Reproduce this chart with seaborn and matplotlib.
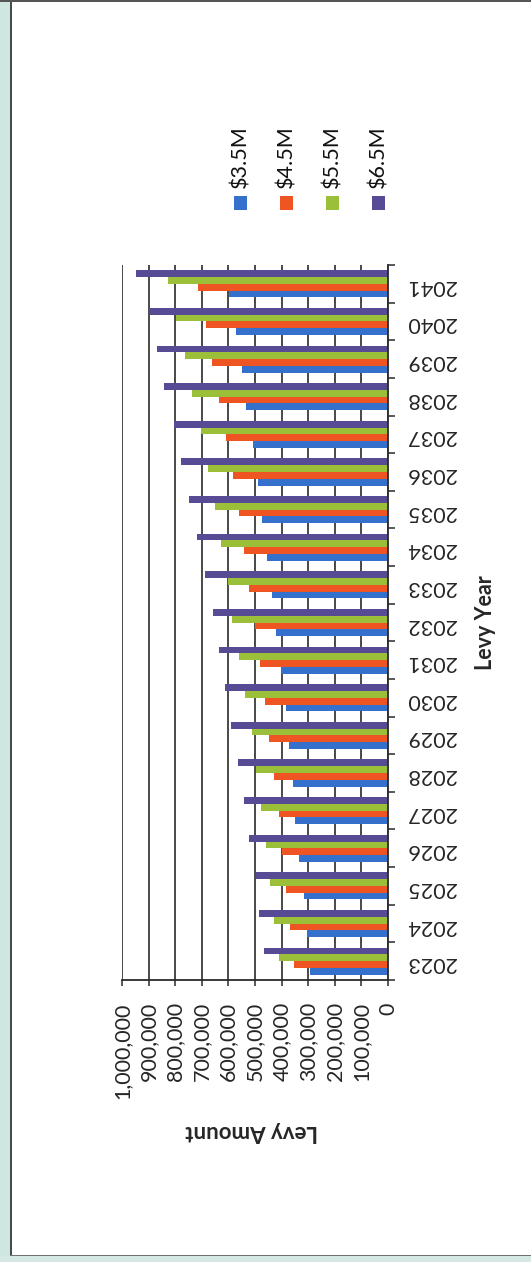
import matplotlib
matplotlib.use("Agg")
import matplotlib.pyplot as plt
from matplotlib.patches import Rectangle
from matplotlib.ticker import FixedLocator, FuncFormatter
import numpy as np
import pandas as pd
import seaborn as sns

# Projected levy by year for four total-levy scenarios
years = [2023, 2024, 2025, 2026, 2027, 2028, 2029, 2030, 2031, 2032,
         2033, 2034, 2035, 2036, 2037, 2038, 2039, 2040, 2041]
series_names = ["$3.5M", "$4.5M", "$5.5M", "$6.5M"]
levy_35 = [292000, 305000, 317000, 335000, 349000, 358000, 374000, 385000, 401000, 420000,
           437000, 455000, 473000, 489000, 508000, 533000, 548000, 571000, 596000]
levy_45 = [354000, 370000, 383000, 398000, 410000, 430000, 448000, 462000, 481000, 499000,
           521000, 543000, 561000, 583000, 609000, 634000, 661000, 686000, 715000]
levy_55 = [410000, 427000, 445000, 460000, 477000, 496000, 511000, 536000, 561000, 586000,
           602000, 627000, 652000, 678000, 703000, 736000, 765000, 797000, 828000]
levy_65 = [468000, 486000, 496000, 524000, 543000, 565000, 590000, 611000, 636000, 659000,
           688000, 719000, 747000, 778000, 803000, 841000, 868000, 900000, 947000]
value_ticks = [0, 100000, 200000, 300000, 400000, 500000, 600000, 700000, 800000, 900000, 1000000]

colors = {"$3.5M": "#3570cc", "$4.5M": "#ee5522", "$5.5M": "#9cbf3a", "$6.5M": "#564b94"}

rows = []
for name, vals in zip(series_names, [levy_35, levy_45, levy_55, levy_65]):
    for y, v in zip(years, vals):
        rows.append({"Levy Year": str(y), "Levy Amount": v, "Scenario": name})
df = pd.DataFrame(rows)

sns.set_style("white")
plt.rcParams["font.family"] = ["Lato", "DejaVu Sans"]

W, H = 531, 1262
fig = plt.figure(figsize=(W / 100, H / 100), dpi=100)
fig.patch.set_facecolor("white")

# plot area in pixel terms
px_left, px_right, px_top, px_bottom = 122, 388, 265, 980
ax = fig.add_axes([px_left / W, 1 - px_bottom / H,
                   (px_right - px_left) / W, (px_bottom - px_top) / H])

year_order = [str(y) for y in reversed(years)]
sns.barplot(data=df, y="Levy Year", x="Levy Amount", hue="Scenario",
            order=year_order, hue_order=list(reversed(series_names)),
            palette=colors, orient="h", width=0.72, saturation=1,
            linewidth=0, ax=ax, legend=False)

ax.set_xlim(1000000, 0)
ax.set_ylim(len(years) - 0.5, -0.5)
ax.xaxis.set_major_locator(FixedLocator(value_ticks))
ax.xaxis.set_major_formatter(FuncFormatter(lambda v, p: f"{int(v):,}"))
ax.grid(axis="x", color="#3a3a3a", linewidth=1.3)
ax.grid(axis="y", visible=False)
ax.set_axisbelow(True)

for s in ["top", "left"]:
    ax.spines[s].set_visible(False)
for s in ["right", "bottom"]:
    ax.spines[s].set_visible(True)
    ax.spines[s].set_color("#2a2a2a")
    ax.spines[s].set_linewidth(1.3)

ax.tick_params(axis="x", which="major", direction="out", length=4, width=1.1,
               color="#2a2a2a", labelsize=15.5, labelrotation=90, pad=12,
               bottom=True)

# year labels on the right, tick marks between categories
ax.yaxis.tick_right()
ax.tick_params(axis="y", which="major", length=0, labelsize=15.5, pad=13,
               labelrotation=180, right=True, left=False)
ax.yaxis.set_minor_locator(FixedLocator(np.arange(-0.5, len(years), 1.0)))
ax.tick_params(axis="y", which="minor", direction="out", length=5, width=1.1,
               color="#2a2a2a", right=True, left=False)
for lab in ax.get_yticklabels():
    lab.set_horizontalalignment("left")

ax.set_xlabel("Levy Amount", fontsize=16, fontweight="bold", rotation=180)
ax.xaxis.set_label_coords(0.489, -0.197)
ax.yaxis.set_label_position("right")
ax.set_ylabel("Levy Year", fontsize=15.5, fontweight="bold", rotation=90)
ax.yaxis.set_label_coords(1.327, 0.5)

# legend: swatches below vertical labels, laid out left to right
leg_x0, leg_dx = 240, 46.3
for i, name in enumerate(series_names):
    cx = leg_x0 + i * leg_dx
    sw = 13
    fig.patches.append(Rectangle(((cx - sw / 2) / W, 1 - (203 + sw / 2) / H), sw / W, sw / H,
                                 transform=fig.transFigure, facecolor=colors[name],
                                 edgecolor="none"))
    fig.text(cx / W, 1 - 188 / H, name, rotation=90, ha="center", va="bottom",
             fontsize=15.5, color="#111111")

# page frame
fig.patches.append(Rectangle((0, 0), 10 / W, 1, transform=fig.transFigure,
                             facecolor="#cfe7e1", edgecolor="none"))
fig.patches.append(Rectangle((10 / W, 0), 2 / W, 1, transform=fig.transFigure,
                             facecolor="#4a4a4a", edgecolor="none"))
fig.patches.append(Rectangle((0, 1 - 2 / H), 1, 2 / H, transform=fig.transFigure,
                             facecolor="#555555", edgecolor="none"))
fig.patches.append(Rectangle((0, 0), 1, 6 / H, transform=fig.transFigure,
                             facecolor="#d6e8e3", edgecolor="none"))
fig.patches.append(Rectangle((10 / W, 6 / H), 1 - 10 / W, 1.5 / H, transform=fig.transFigure,
                             facecolor="#707070", edgecolor="none"))

fig.savefig("out.png", dpi=100, facecolor=fig.get_facecolor())
